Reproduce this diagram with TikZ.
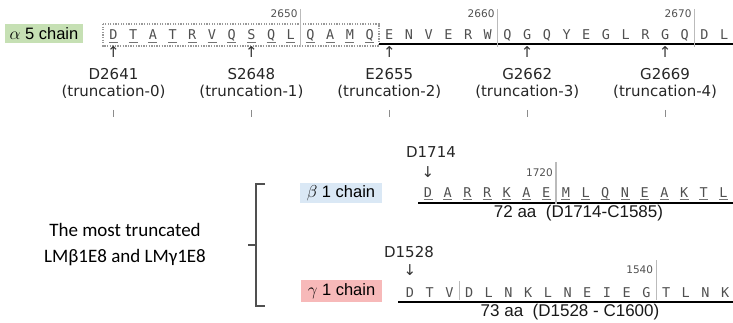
\documentclass[tikz,border=0pt]{standalone}
\usepackage{fontspec}
\setmainfont{DejaVu Sans}
\newfontfamily\seqfont{DejaVu Sans Mono}
\newfontfamily\labfont{Liberation Sans}
\newfontfamily\notefont{Carlito}

\definecolor{alphabg}{HTML}{C6E0B4}
\definecolor{betabg}{HTML}{DAE8F5}
\definecolor{gammabg}{HTML}{F7B9B9}
\definecolor{seqgray}{HTML}{505050}
\definecolor{rulegray}{HTML}{BBBBBB}
\definecolor{bracegray}{HTML}{505050}

\tikzset{
  residue/.style={anchor=base, inner sep=0pt, font=\seqfont\fontsize{13.5}{15}\selectfont, text=seqgray},
  posnum/.style={anchor=base east, inner sep=0pt, font=\fontsize{10.5}{12}\selectfont, text=seqgray},
  sitelabel/.style={inner sep=0pt, font=\fontsize{15}{18}\selectfont, text=black!85},
  lenlabel/.style={anchor=base, inner sep=0pt, font=\labfont\fontsize{17}{19}\selectfont, text=black!90},
  pointer/.style={inner sep=0pt, font=\fontsize{15}{16}\selectfont, text=black!80},
  chainbox/.style={inner sep=0pt, font=\labfont\fontsize{16.5}{18}\selectfont, text=black},
  marker/.style={draw=rulegray, line width=1.5pt},
  underscore/.style={draw=seqgray!80, line width=0.9pt},
  seqline/.style={draw=black, line width=2pt},
  dotbox/.style={draw=gray!80, line width=1.6pt, dash pattern=on 1.3pt off 1.3pt},
  sitetick/.style={draw=gray!90, line width=0.7pt},
  bracket/.style={draw=bracegray, line width=2pt},
  note/.style={align=center, inner sep=0pt, font=\notefont\fontsize{19}{26}\selectfont}
}

\begin{document}
\begin{tikzpicture}[x=1pt,y=-1pt]
\useasboundingbox (0,0) rectangle (733,323);

% ---------------- alpha5 chain ----------------
\node[chainbox, fill=alphabg, minimum width=78pt, minimum height=19pt] (alpha) at (44,33.5) {$\alpha$ 5 chain};

\foreach \r [count=\i from 0] in {D,T,A,T,R,V,Q,S,Q,L,Q,A,M,Q,E,N,V,E,R,W,Q,G,Q,Y,E,G,L,R,G,Q,D,L}
  \node[residue] (a\i) at ({113.5+19.7*\i},39.5) {\r};
\foreach \i in {0,...,13}
  \draw[underscore] ({113.5+19.7*\i-4.5},42.2) -- ++(9,0);
\draw[dotbox] (103,24) rectangle (379,46);
\draw[seqline] (379,44.5) -- (733,44.5);

\foreach \k/\n in {9/2650,19/2660,29/2670}{
  \draw[marker] ({113.5+19.7*(\k+0.5)},9) -- ++(0,38);
  \node[posnum] at ({113.5+19.7*(\k+0.5)-3},18) {\n};
}

\foreach \k/\lab/\t in {0/D2641/0,7/S2648/1,14/E2655/2,21/G2662/3,28/G2669/4}{
  \node[pointer] (up\t) at ({113.5+19.7*\k},52.5) {↑};
  \node[sitelabel] (site\t) at ({113.5+19.7*\k},74) {\lab};
  \node[sitelabel] (trunc\t) at ({113.5+19.7*\k},92) {(truncation-\t)};
  \draw[sitetick] ({113.5+19.7*\k},110) -- ++(0,7);
}

% ---------------- beta1 chain ----------------
\node[chainbox, fill=betabg, minimum width=82pt, minimum height=20pt] (beta) at (341,193) {$\beta$ 1 chain};
\foreach \r [count=\i from 0] in {D,A,R,R,K,A,E,M,L,Q,N,E,A,K,T,L}{
  \node[residue] (b\i) at ({428+19.7*\i},197) {\r};
  \draw[underscore] ({428+19.7*\i-4.5},199.5) -- ++(9,0);
}
\draw[seqline] (418,202.5) -- (733,202.5);
\draw[marker] ({428+19.7*6.5},162) -- ++(0,42);
\node[posnum] at ({428+19.7*6.5-3},177) {1720};
\node[pointer] (downb) at (428,172) {↓};
\node[sitelabel] (siteb) at (431,152) {D1714};
\node[lenlabel] (lenb) at (578.5,217.5) {72 aa\ \ (D1714-C1585)};

% ---------------- gamma1 chain ----------------
\node[chainbox, fill=gammabg, minimum width=81pt, minimum height=22pt] (gamma) at (341.5,291) {$\gamma$ 1 chain};
\foreach \r [count=\i from 0] in {D,T,V,D,L,N,K,L,N,E,I,E,G,T,L,N,K}
  \node[residue] (g\i) at ({410+19.7*\i},297) {\r};
\draw[seqline] (398,301.5) -- (733,301.5);
\draw[marker] ({410+19.7*2.5},281) -- ++(0,19);
\draw[marker] ({410+19.7*12.5},260) -- ++(0,40);
\node[posnum] at ({410+19.7*12.5-3},273) {1540};
\node[pointer] (downg) at (410,270) {↓};
\node[sitelabel] (siteg) at (409,252) {D1528};
\node[lenlabel] (leng) at (570,316) {73 aa\ \ (D1528 - C1600)};

% ---------------- bracket and note ----------------
\draw[bracket] (265,184) -- (256,184) -- (256,306) -- (265,306);
\draw[bracket] (256,245) -- (248,245);
\node[note] (notetext) at (125,245) {The most truncated\\LMβ1E8 and LMγ1E8};
\end{tikzpicture}
\end{document}
